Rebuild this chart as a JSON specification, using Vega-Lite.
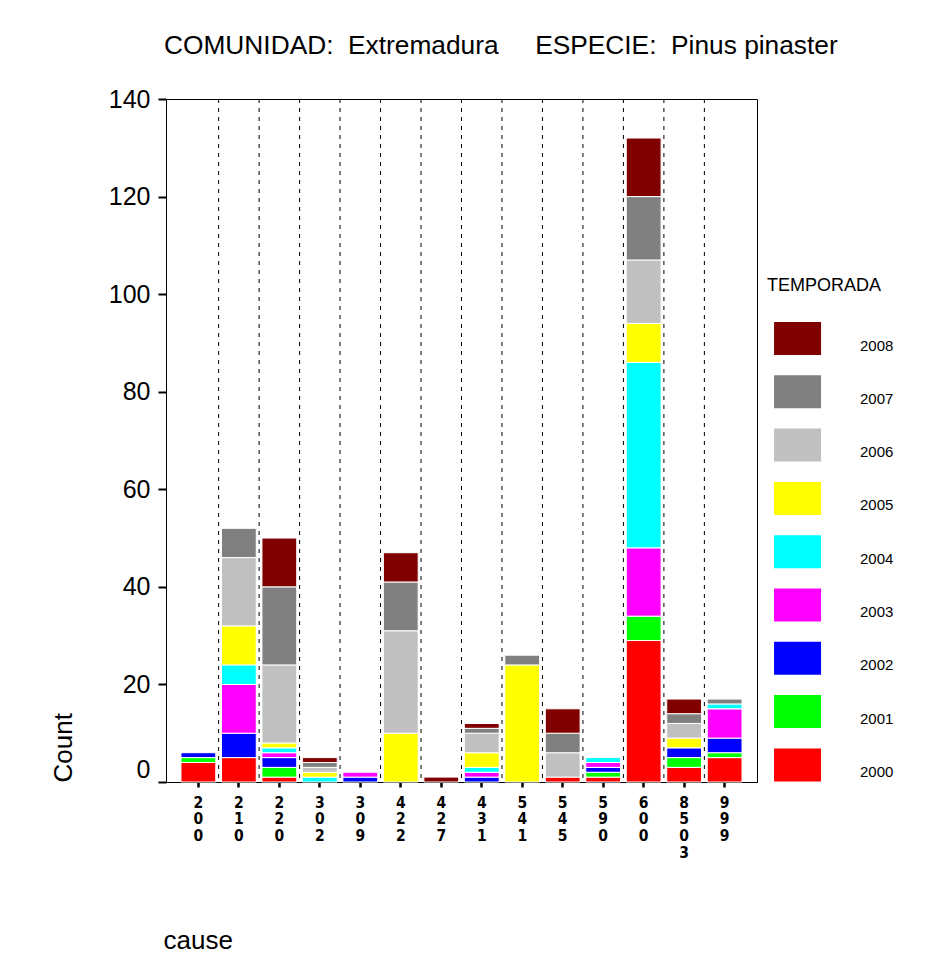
{
  "$schema": "https://vega.github.io/schema/vega-lite/v6.json",
  "width": 591,
  "height": 683,
  "autosize": "none",
  "padding": {"left": 166, "top": 99, "right": 168, "bottom": 187},
  "background": "white",
  "title": {
    "text": "COMUNIDAD:\u00a0 Extremadura\u00a0 \u00a0 \u00a0ESPECIE:\u00a0 Pinus pinaster",
    "anchor": "start",
    "frame": "group",
    "font": "Liberation Sans",
    "fontSize": 26.3,
    "fontWeight": "normal",
    "color": "black",
    "baseline": "alphabetic",
    "offset": 7,
    "dx": -2
  },
  "config": {
    "view": {"stroke": "black", "strokeWidth": 1}
  },
  "layer": [
    {
      "data": {"values": [
        {"cause": "210"}, {"cause": "220"}, {"cause": "302"}, {"cause": "309"},
        {"cause": "422"}, {"cause": "427"}, {"cause": "431"}, {"cause": "541"},
        {"cause": "545"}, {"cause": "590"}, {"cause": "600"}, {"cause": "8503"},
        {"cause": "999"}
      ]},
      "mark": {"type": "rule", "strokeDash": [4, 5], "color": "black", "strokeWidth": 1},
      "encoding": {
        "x": {
          "field": "cause",
          "type": "nominal",
          "bandPosition": 0,
          "sort": ["200", "210", "220", "302", "309", "422", "427", "431", "541", "545", "590", "600", "8503", "999"]
        }
      }
    },
    {
      "data": {"values": [
        {"cause": "200", "year": "2000", "count": 4},
        {"cause": "200", "year": "2001", "count": 1},
        {"cause": "200", "year": "2002", "count": 1},
        {"cause": "210", "year": "2000", "count": 5},
        {"cause": "210", "year": "2002", "count": 5},
        {"cause": "210", "year": "2003", "count": 10},
        {"cause": "210", "year": "2004", "count": 4},
        {"cause": "210", "year": "2005", "count": 8},
        {"cause": "210", "year": "2006", "count": 14},
        {"cause": "210", "year": "2007", "count": 6},
        {"cause": "220", "year": "2000", "count": 1},
        {"cause": "220", "year": "2001", "count": 2},
        {"cause": "220", "year": "2002", "count": 2},
        {"cause": "220", "year": "2003", "count": 1},
        {"cause": "220", "year": "2004", "count": 1},
        {"cause": "220", "year": "2005", "count": 1},
        {"cause": "220", "year": "2006", "count": 16},
        {"cause": "220", "year": "2007", "count": 16},
        {"cause": "220", "year": "2008", "count": 10},
        {"cause": "302", "year": "2004", "count": 1},
        {"cause": "302", "year": "2005", "count": 1},
        {"cause": "302", "year": "2006", "count": 1},
        {"cause": "302", "year": "2007", "count": 1},
        {"cause": "302", "year": "2008", "count": 1},
        {"cause": "309", "year": "2002", "count": 1},
        {"cause": "309", "year": "2003", "count": 1},
        {"cause": "422", "year": "2005", "count": 10},
        {"cause": "422", "year": "2006", "count": 21},
        {"cause": "422", "year": "2007", "count": 10},
        {"cause": "422", "year": "2008", "count": 6},
        {"cause": "427", "year": "2008", "count": 1},
        {"cause": "431", "year": "2002", "count": 1},
        {"cause": "431", "year": "2003", "count": 1},
        {"cause": "431", "year": "2004", "count": 1},
        {"cause": "431", "year": "2005", "count": 3},
        {"cause": "431", "year": "2006", "count": 4},
        {"cause": "431", "year": "2007", "count": 1},
        {"cause": "431", "year": "2008", "count": 1},
        {"cause": "541", "year": "2005", "count": 24},
        {"cause": "541", "year": "2007", "count": 2},
        {"cause": "545", "year": "2000", "count": 1},
        {"cause": "545", "year": "2006", "count": 5},
        {"cause": "545", "year": "2007", "count": 4},
        {"cause": "545", "year": "2008", "count": 5},
        {"cause": "590", "year": "2000", "count": 1},
        {"cause": "590", "year": "2001", "count": 1},
        {"cause": "590", "year": "2002", "count": 1},
        {"cause": "590", "year": "2003", "count": 1},
        {"cause": "590", "year": "2004", "count": 1},
        {"cause": "600", "year": "2000", "count": 29},
        {"cause": "600", "year": "2001", "count": 5},
        {"cause": "600", "year": "2003", "count": 14},
        {"cause": "600", "year": "2004", "count": 38},
        {"cause": "600", "year": "2005", "count": 8},
        {"cause": "600", "year": "2006", "count": 13},
        {"cause": "600", "year": "2007", "count": 13},
        {"cause": "600", "year": "2008", "count": 12},
        {"cause": "8503", "year": "2000", "count": 3},
        {"cause": "8503", "year": "2001", "count": 2},
        {"cause": "8503", "year": "2002", "count": 2},
        {"cause": "8503", "year": "2005", "count": 2},
        {"cause": "8503", "year": "2006", "count": 3},
        {"cause": "8503", "year": "2007", "count": 2},
        {"cause": "8503", "year": "2008", "count": 3},
        {"cause": "999", "year": "2000", "count": 5},
        {"cause": "999", "year": "2001", "count": 1},
        {"cause": "999", "year": "2002", "count": 3},
        {"cause": "999", "year": "2003", "count": 6},
        {"cause": "999", "year": "2004", "count": 1},
        {"cause": "999", "year": "2007", "count": 1}
      ]},
      "mark": {"type": "bar", "width": {"band": 0.86}, "stroke": "white", "strokeWidth": 1},
      "encoding": {
        "x": {
          "field": "cause",
          "type": "nominal",
          "sort": ["200", "210", "220", "302", "309", "422", "427", "431", "541", "545", "590", "600", "8503", "999"],
          "scale": {"paddingInner": 0, "paddingOuter": 0.3},
          "axis": {
            "title": "cause",
            "titleFont": "Liberation Sans",
            "titleFontSize": 26,
            "titleFontWeight": "normal",
            "titleColor": "black",
            "titleX": -3,
            "titleY": 166,
            "titleAlign": "left",
            "titleBaseline": "alphabetic",
            "labelAngle": 0,
            "labelExpr": "split(datum.label, '')",
            "labelFont": "DejaVu Sans Condensed",
            "labelFontWeight": "bold",
            "labelFontSize": 15.5,
            "labelLineHeight": 16.7,
            "labelBaseline": "top",
            "labelAlign": "center",
            "labelPadding": 8,
            "labelColor": "black",
            "labelOverlap": false,
            "tickColor": "black",
            "tickWidth": 2.5,
            "tickSize": 5,
            "domainColor": "black",
            "grid": false
          }
        },
        "y": {
          "field": "count",
          "type": "quantitative",
          "scale": {"domain": [0, 140], "nice": false},
          "axis": {
            "values": [0, 20, 40, 60, 80, 100, 120, 140],
            "grid": false,
            "domainColor": "black",
            "domainWidth": 1,
            "tickColor": "black",
            "tickWidth": 2,
            "tickSize": 8,
            "labelFont": "Liberation Sans",
            "labelFontSize": 25,
            "labelColor": "black",
            "labelPadding": 8,
            "labelOverlap": false,
            "labelBaseline": {"condition": {"test": "datum.value === 0", "value": "bottom"}, "value": "middle"},
            "title": "Count",
            "titleFont": "Liberation Sans",
            "titleFontSize": 26,
            "titleFontWeight": "normal",
            "titleColor": "black",
            "titleAngle": -90,
            "titleX": -95,
            "titleY": 683,
            "titleAlign": "left",
            "titleBaseline": "alphabetic"
          }
        },
        "color": {
          "field": "year",
          "type": "nominal",
          "scale": {
            "domain": ["2008", "2007", "2006", "2005", "2004", "2003", "2002", "2001", "2000"],
            "range": ["#800000", "#808080", "#C0C0C0", "#FFFF00", "#00FFFF", "#FF00FF", "#0000FF", "#00FF00", "#FF0000"]
          },
          "legend": {
            "title": "TEMPORADA",
            "orient": "none",
            "legendX": 601,
            "legendY": 178,
            "padding": 0,
            "titleFont": "Liberation Sans",
            "titleFontSize": 18,
            "titleFontWeight": "normal",
            "titleColor": "black",
            "titleBaseline": "top",
            "titlePadding": 27,
            "symbolType": "M-0.7,-1L1.3,-1L1.3,0.404L-0.7,0.404Z",
            "symbolSize": 2209,
            "symbolStrokeWidth": 0,
            "symbolOpacity": 1,
            "labelFont": "Liberation Sans",
            "labelFontSize": 15,
            "labelColor": "black",
            "labelBaseline": "middle",
            "labelOffset": 46,
            "rowPadding": 20.3
          }
        },
        "order": {"field": "year", "sort": "ascending"}
      }
    }
  ]
}
